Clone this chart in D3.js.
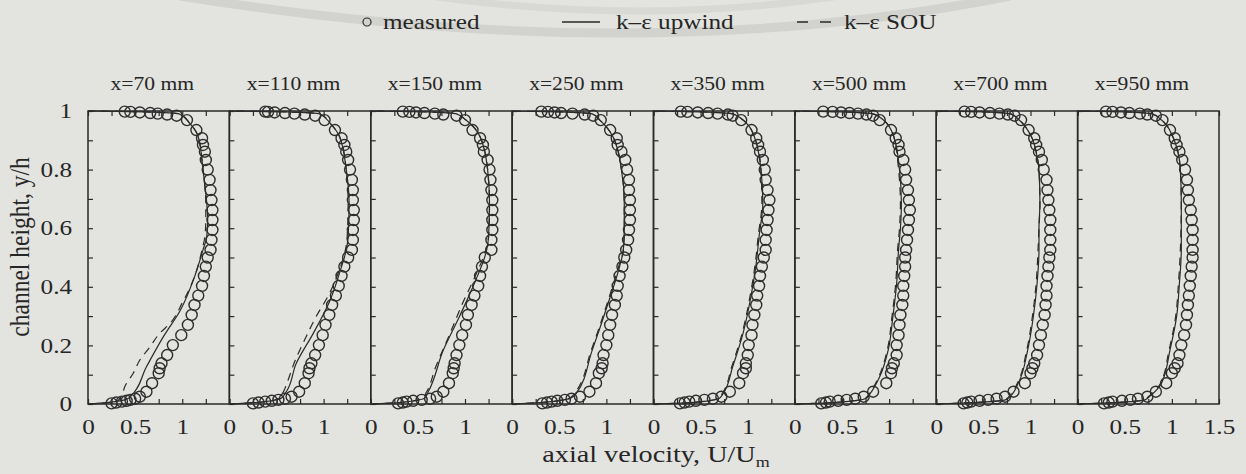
<!DOCTYPE html>
<html>
<head>
<meta charset="utf-8">
<script src="https://cdn.jsdelivr.net/npm/d3@7"></script>
<style>
  html, body { margin: 0; padding: 0; background: #e3e3df; }
  svg { display: block; }
  text { font-family: "Liberation Serif", "Times New Roman", serif; fill: #262626; }
</style>
</head>
<body>
<svg id="chart" width="1246" height="474"></svg>
<script>
// Measuring stations (downstream distance)
const stations = ["x=70 mm", "x=110 mm", "x=150 mm", "x=250 mm", "x=350 mm", "x=500 mm", "x=700 mm", "x=950 mm"];

// Heights y/h of the measured points (shared by all stations)
const heights = [0.002, 0.005, 0.008, 0.011, 0.014, 0.018, 0.025, 0.042, 0.071, 0.105, 0.122, 0.139, 0.167,
  0.201, 0.235, 0.27, 0.304, 0.338, 0.37, 0.403, 0.437, 0.469, 0.50, 0.526, 0.56, 0.594, 0.628, 0.662,
  0.696, 0.73, 0.765, 0.80, 0.833, 0.861, 0.884, 0.907, 0.935, 0.969, 0.984, 0.988, 0.991, 0.993, 0.995, 0.997, 0.998];

// Measured axial velocity U/Um at each height
const measured70 = [0.25, 0.30, 0.36, 0.41, 0.45, 0.50, 0.55, 0.62, 0.68, 0.75, 0.76, 0.78, 0.84, 0.90, 0.99, 1.06,
  1.10, 1.13, 1.17, 1.21, 1.23, 1.25, 1.27, 1.30, 1.31, 1.32, 1.32, 1.32, 1.31, 1.30, 1.29, 1.27, 1.25, 1.24,
  1.22, 1.21, 1.15, 1.05, 0.94, 0.84, 0.74, 0.66, 0.55, 0.45, 0.39];
const measured110 = [0.25, 0.31, 0.38, 0.45, 0.52, 0.59, 0.66, 0.74, 0.80, 0.84, 0.85, 0.87, 0.91, 0.95, 0.99, 1.02,
  1.06, 1.09, 1.13, 1.16, 1.19, 1.22, 1.26, 1.30, 1.31, 1.31, 1.32, 1.32, 1.31, 1.31, 1.30, 1.28, 1.26, 1.24,
  1.22, 1.19, 1.12, 1.01, 0.91, 0.80, 0.69, 0.59, 0.48, 0.41, 0.38];
const measured150 = [0.29, 0.34, 0.38, 0.45, 0.54, 0.63, 0.70, 0.77, 0.83, 0.87, 0.88, 0.89, 0.91, 0.94, 0.97, 1.01,
  1.03, 1.07, 1.10, 1.14, 1.16, 1.18, 1.21, 1.28, 1.28, 1.29, 1.29, 1.29, 1.29, 1.28, 1.27, 1.26, 1.24, 1.20,
  1.19, 1.16, 1.08, 1.00, 0.91, 0.77, 0.68, 0.57, 0.48, 0.41, 0.34];
const measured250 = [0.32, 0.37, 0.42, 0.48, 0.56, 0.63, 0.72, 0.82, 0.89, 0.92, 0.95, 0.96, 0.97, 1.00, 1.02, 1.04,
  1.06, 1.09, 1.11, 1.12, 1.14, 1.17, 1.19, 1.21, 1.23, 1.24, 1.25, 1.25, 1.25, 1.24, 1.24, 1.22, 1.20, 1.16,
  1.12, 1.11, 1.04, 0.94, 0.86, 0.77, 0.64, 0.52, 0.45, 0.38, 0.31];
const measured350 = [0.28, 0.33, 0.38, 0.45, 0.54, 0.63, 0.72, 0.81, 0.91, 0.95, 0.98, 0.98, 1.00, 1.01, 1.04, 1.05,
  1.07, 1.09, 1.10, 1.12, 1.13, 1.15, 1.17, 1.19, 1.19, 1.20, 1.21, 1.22, 1.23, 1.21, 1.19, 1.18, 1.16, 1.13,
  1.11, 1.09, 1.04, 0.93, 0.84, 0.79, 0.68, 0.58, 0.47, 0.36, 0.29];
const measured500 = [0.28, 0.33, 0.37, 0.46, 0.55, 0.64, 0.73, 0.83, 0.97, 1.02, 1.03, 1.05, 1.08, 1.08, 1.10, 1.11,
  1.12, 1.14, 1.15, 1.15, 1.16, 1.17, 1.17, 1.18, 1.19, 1.20, 1.21, 1.22, 1.21, 1.20, 1.18, 1.17, 1.15, 1.11,
  1.10, 1.07, 1.02, 0.90, 0.83, 0.76, 0.67, 0.58, 0.49, 0.40, 0.30];
const measured700 = [0.29, 0.33, 0.37, 0.46, 0.55, 0.64, 0.73, 0.82, 0.94, 1.00, 1.02, 1.04, 1.07, 1.09, 1.11, 1.13,
  1.15, 1.16, 1.17, 1.17, 1.18, 1.19, 1.20, 1.21, 1.21, 1.21, 1.21, 1.20, 1.19, 1.18, 1.17, 1.14, 1.12, 1.09,
  1.06, 1.04, 0.98, 0.90, 0.83, 0.76, 0.67, 0.57, 0.46, 0.37, 0.30];
const measured950 = [0.28, 0.33, 0.37, 0.47, 0.56, 0.64, 0.74, 0.83, 0.94, 1.00, 1.03, 1.06, 1.08, 1.10, 1.13, 1.15,
  1.16, 1.17, 1.18, 1.19, 1.20, 1.21, 1.22, 1.22, 1.22, 1.22, 1.21, 1.20, 1.18, 1.17, 1.16, 1.14, 1.11, 1.08,
  1.05, 1.03, 0.98, 0.90, 0.83, 0.74, 0.66, 0.55, 0.46, 0.37, 0.30];

// k-epsilon, upwind scheme: [U/Um, y/h]
const upwind70 = [[0, 0], [0.2, 0.005], [0.4, 0.015], [0.45, 0.025], [0.62, 0.127], [0.80, 0.23], [0.98, 0.32],
  [1.13, 0.434], [1.22, 0.526], [1.26, 0.571], [1.27, 0.63], [1.26, 0.685], [1.22, 0.80], [1.17, 0.912],
  [1.08, 0.958], [0.97, 0.99], [0.6, 0.997], [0, 1]];
const upwind110 = [[0, 0], [0.3, 0.006], [0.55, 0.02], [0.6, 0.04], [0.71, 0.139], [0.89, 0.241], [1.07, 0.355],
  [1.19, 0.469], [1.22, 0.50], [1.26, 0.571], [1.27, 0.685], [1.24, 0.80], [1.17, 0.912], [1.07, 0.958],
  [0.96, 0.99], [0.6, 0.997], [0, 1]];
const upwind150 = [[0, 0], [0.3, 0.005], [0.57, 0.02], [0.61, 0.042], [0.77, 0.184], [0.94, 0.298], [1.10, 0.412],
  [1.23, 0.526], [1.25, 0.571], [1.26, 0.685], [1.24, 0.80], [1.16, 0.912], [1.01, 0.969], [0.91, 0.99],
  [0.6, 0.997], [0, 1]];
const upwind250 = [[0, 0], [0.3, 0.005], [0.62, 0.02], [0.68, 0.036], [0.85, 0.184], [1.03, 0.355], [1.14, 0.469],
  [1.18, 0.526], [1.19, 0.6], [1.19, 0.685], [1.16, 0.80], [1.07, 0.912], [0.93, 0.969], [0.85, 0.99],
  [0.5, 0.997], [0, 1]];
const upwind350 = [[0, 0], [0.4, 0.005], [0.70, 0.02], [0.74, 0.036], [0.84, 0.127], [0.95, 0.241], [1.04, 0.378],
  [1.09, 0.48], [1.12, 0.571], [1.16, 0.685], [1.14, 0.80], [1.07, 0.912], [0.95, 0.969], [0.84, 0.99],
  [0.5, 0.997], [0, 1]];
const upwind500 = [[0, 0], [0.4, 0.005], [0.76, 0.02], [0.80, 0.036], [0.90, 0.093], [0.99, 0.184], [1.04, 0.298],
  [1.08, 0.412], [1.10, 0.526], [1.12, 0.6], [1.13, 0.685], [1.11, 0.80], [1.05, 0.912], [0.94, 0.969],
  [0.83, 0.99], [0.5, 0.997], [0, 1]];
const upwind700 = [[0, 0], [0.4, 0.005], [0.74, 0.015], [0.78, 0.025], [0.87, 0.071], [0.97, 0.184], [1.03, 0.298],
  [1.07, 0.412], [1.09, 0.526], [1.09, 0.6], [1.10, 0.685], [1.09, 0.80], [1.06, 0.86], [1.01, 0.912],
  [0.88, 0.969], [0.79, 0.99], [0.5, 0.997], [0, 1]];
const upwind950 = [[0, 0], [0.4, 0.005], [0.72, 0.015], [0.76, 0.025], [0.89, 0.071], [0.98, 0.184], [1.05, 0.298],
  [1.08, 0.412], [1.10, 0.526], [1.10, 0.685], [1.09, 0.80], [1.01, 0.912], [0.89, 0.969], [0.79, 0.99],
  [0.5, 0.997], [0, 1]];

// k-epsilon, second-order upwind (SOU): [U/Um, y/h]
const sou70 = [[0, 0], [0.2, 0.004], [0.32, 0.012], [0.36, 0.03], [0.39, 0.059], [0.48, 0.105], [0.55, 0.15],
  [0.66, 0.196], [0.76, 0.241], [0.87, 0.275], [1.0, 0.345], [1.13, 0.434], [1.21, 0.526], [1.24, 0.571],
  [1.25, 0.63], [1.25, 0.685], [1.22, 0.80], [1.17, 0.912], [1.08, 0.958], [0.97, 0.99], [0.6, 0.997], [0, 1]];
const sou110 = [[0, 0], [0.3, 0.005], [0.5, 0.016], [0.57, 0.04], [0.61, 0.071], [0.70, 0.15], [0.80, 0.22],
  [0.92, 0.298], [1.05, 0.37], [1.18, 0.469], [1.22, 0.51], [1.25, 0.571], [1.26, 0.685], [1.24, 0.80],
  [1.17, 0.912], [1.07, 0.958], [0.96, 0.99], [0.6, 0.997], [0, 1]];
const sou150 = [[0, 0], [0.3, 0.005], [0.55, 0.02], [0.59, 0.04], [0.69, 0.127], [0.84, 0.24], [0.99, 0.355],
  [1.10, 0.43], [1.22, 0.526], [1.25, 0.571], [1.26, 0.685], [1.24, 0.80], [1.16, 0.912], [1.01, 0.969],
  [0.91, 0.99], [0.6, 0.997], [0, 1]];
const sou250 = [[0, 0], [0.3, 0.005], [0.61, 0.02], [0.67, 0.04], [0.84, 0.184], [1.02, 0.355], [1.13, 0.469],
  [1.18, 0.526], [1.19, 0.6], [1.19, 0.685], [1.16, 0.80], [1.07, 0.912], [0.93, 0.969], [0.85, 0.99],
  [0.5, 0.997], [0, 1]];
const sou350 = [[0, 0], [0.4, 0.005], [0.69, 0.02], [0.73, 0.036], [0.83, 0.127], [0.94, 0.241], [1.03, 0.378],
  [1.08, 0.48], [1.11, 0.571], [1.15, 0.685], [1.14, 0.80], [1.07, 0.912], [0.95, 0.969], [0.84, 0.99],
  [0.5, 0.997], [0, 1]];
const sou500 = [[0, 0], [0.4, 0.005], [0.75, 0.02], [0.79, 0.036], [0.89, 0.093], [0.98, 0.184], [1.03, 0.298],
  [1.07, 0.412], [1.09, 0.526], [1.11, 0.6], [1.12, 0.685], [1.10, 0.80], [1.05, 0.912], [0.94, 0.969],
  [0.83, 0.99], [0.5, 0.997], [0, 1]];
const sou700 = [[0, 0], [0.4, 0.005], [0.73, 0.015], [0.77, 0.025], [0.86, 0.071], [0.96, 0.184], [1.02, 0.298],
  [1.06, 0.412], [1.08, 0.526], [1.09, 0.6], [1.10, 0.685], [1.09, 0.80], [1.06, 0.86], [1.01, 0.912],
  [0.88, 0.969], [0.79, 0.99], [0.5, 0.997], [0, 1]];
const sou950 = [[0, 0], [0.4, 0.005], [0.71, 0.015], [0.75, 0.025], [0.88, 0.071], [0.97, 0.184], [1.04, 0.298],
  [1.07, 0.412], [1.09, 0.526], [1.10, 0.685], [1.09, 0.80], [1.01, 0.912], [0.89, 0.969], [0.79, 0.99],
  [0.5, 0.997], [0, 1]];

// Axis ticks and labels
const velocityTicks = [0, 0.25, 0.5, 0.75, 1, 1.25, 1.5];
const velocityLabels = [0, 0.5, 1];
const heightTicks = [0, 0.1, 0.2, 0.3, 0.4, 0.5, 0.6, 0.7, 0.8, 0.9, 1];
const heightLabels = [0, 0.2, 0.4, 0.6, 0.8, 1];
const legendLabels = ["measured", "k\u2013\u03b5 upwind", "k\u2013\u03b5 SOU"];

const measuredSets = [measured70, measured110, measured150, measured250, measured350, measured500, measured700, measured950];
const upwindSets = [upwind70, upwind110, upwind150, upwind250, upwind350, upwind500, upwind700, upwind950];
const souSets = [sou70, sou110, sou150, sou250, sou350, sou500, sou700, sou950];

const panels = stations.map((name, i) => ({
  name,
  points: measuredSets[i].map((u, k) => [u, heights[k]]),
  upwind: upwindSets[i],
  sou: souSets[i]
}));

// ---- layout ----
const ink = "#2a2a2a";
const stretch = 1.2;          // glyphs are set slightly wide
const plotLeft = 88, plotRight = 1219, plotTop = 111, plotBottom = 404;

const svg = d3.select("#chart");
svg.append("rect").attr("width", 1246).attr("height", 474).attr("fill", "#e3e3df");

// faint seal printed behind the key
const seal = svg.append("g").attr("fill", "none").attr("stroke", "#d2d2ce");
seal.append("path").attr("d", "M180,-4 Q640,70 1010,-4").attr("stroke-width", 9);
seal.append("path").attr("d", "M430,-4 Q640,26 840,-4").attr("stroke-width", 7).attr("stroke", "#d8d8d4");

const band = d3.scaleBand().domain(stations).range([plotLeft, plotRight]).padding(0);
const y = d3.scaleLinear().domain([0, 1]).range([plotBottom, plotTop]);
const fmt = d3.format("~g");

function styleAxis(ax, size) {
  ax.attr("font-family", null).attr("font-size", null);
  ax.select(".domain").remove();
  ax.selectAll("line").attr("stroke", ink).attr("stroke-width", 1.2);
  ax.selectAll("text").style("font-size", size + "px").attr("fill", "#262626");
}

panels.forEach((p, i) => {
  const x0 = band(p.name), pw = band.bandwidth();
  const x = d3.scaleLinear().domain([0, 1.5]).range([x0, x0 + pw]);
  const isLast = i === panels.length - 1;
  const g = svg.append("g");

  // bottom axis with inward ticks
  const bottomAxis = g.append("g").attr("transform", `translate(0,${plotBottom})`)
    .call(d3.axisBottom(x).tickValues(velocityTicks).tickSizeInner(-5).tickSizeOuter(0).tickPadding(15)
      .tickFormat(d => (velocityLabels.includes(d) || (isLast && d === 1.5)) ? fmt(d) : ""));
  styleAxis(bottomAxis, 21);
  bottomAxis.selectAll("text").attr("transform", `scale(${stretch},1)`);

  // top axis, ticks only
  const topAxis = g.append("g").attr("transform", `translate(0,${plotTop})`)
    .call(d3.axisTop(x).tickValues(velocityTicks).tickSizeInner(-5).tickSizeOuter(0).tickFormat(""));
  styleAxis(topAxis, 21);

  // left axis, labelled on the first panel only
  const leftAxis = g.append("g").attr("transform", `translate(${x0},0)`)
    .call(d3.axisLeft(y).tickValues(heightTicks).tickSizeInner(-5).tickSizeOuter(0).tickPadding(13.3)
      .tickFormat(d => (i === 0 && heightLabels.some(h => Math.abs(h - d) < 1e-9)) ? fmt(d) : ""));
  styleAxis(leftAxis, 21);
  leftAxis.selectAll("text").attr("transform", `scale(${stretch},1)`);

  // frame
  g.append("rect").attr("x", x0).attr("y", plotTop).attr("width", pw).attr("height", plotBottom - plotTop)
    .attr("fill", "none").attr("stroke", ink).attr("stroke-width", 1.5);

  const line = d3.line().x(d => x(d[0])).y(d => y(d[1])).curve(d3.curveMonotoneY);

  g.append("path").datum(p.sou).attr("d", line).attr("fill", "none")
    .attr("stroke", ink).attr("stroke-width", 1.2).attr("stroke-dasharray", "8,6");
  g.append("path").datum(p.upwind).attr("d", line).attr("fill", "none")
    .attr("stroke", ink).attr("stroke-width", 1.2);

  g.selectAll("circle.m").data(p.points).join("circle").attr("class", "m")
    .attr("cx", d => x(d[0])).attr("cy", d => y(d[1])).attr("r", 5.5)
    .attr("fill", "none").attr("stroke", "#2e2e2e").attr("stroke-width", 1.4);

  // station title
  g.append("text").attr("transform", `translate(${x0 + pw / 2 - 6.5},90) scale(${stretch},1)`)
    .attr("text-anchor", "middle").style("font-size", "18px").text(p.name);
});

// axis titles
svg.append("text").attr("transform", `translate(656,462) scale(${stretch},1)`)
  .attr("text-anchor", "middle").style("font-size", "23.5px")
  .call(t => {
    t.append("tspan").text("axial velocity, U/U");
    t.append("tspan").attr("dy", 5).style("font-size", "15px").text("m");
  });
svg.append("text").attr("transform", `translate(29,247) scale(${stretch},1) rotate(-90)`)
  .attr("text-anchor", "middle").style("font-size", "23.5px").text("channel height, y/h");

// key
const key = svg.append("g");
key.append("circle").attr("cx", 367).attr("cy", 22).attr("r", 4)
  .attr("fill", "none").attr("stroke", ink).attr("stroke-width", 1.2);
key.append("text").attr("transform", `translate(383,29) scale(${stretch},1)`).style("font-size", "21px").text(legendLabels[0]);
key.append("line").attr("x1", 562).attr("x2", 600).attr("y1", 22).attr("y2", 22)
  .attr("stroke", ink).attr("stroke-width", 1.3);
key.append("text").attr("transform", `translate(616,29) scale(${stretch},1)`).style("font-size", "21px").text(legendLabels[1]);
key.append("line").attr("x1", 797).attr("x2", 831).attr("y1", 22).attr("y2", 22)
  .attr("stroke", ink).attr("stroke-width", 1.3).attr("stroke-dasharray", "11,12");
key.append("text").attr("transform", `translate(844,29) scale(${stretch},1)`).style("font-size", "21px").text(legendLabels[2]);
</script>
</body>
</html>
